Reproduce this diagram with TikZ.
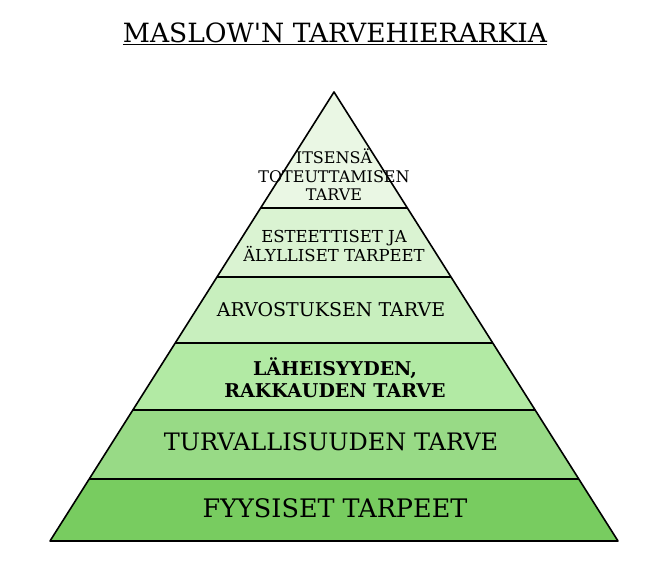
\documentclass[tikz,border=0pt]{standalone}
\usepackage{fontspec}
\setmainfont{DejaVu Serif}[Ligatures=TeXOff]
\usetikzlibrary{calc}
\definecolor{lay1}{HTML}{EAF7E4}
\definecolor{lay2}{HTML}{DAF3D2}
\definecolor{lay3}{HTML}{C8EFBE}
\definecolor{lay4}{HTML}{B2EAA4}
\definecolor{lay5}{HTML}{98DA86}
\definecolor{lay6}{HTML}{78CC60}
\tikzset{
  edge/.style={line width=1.6pt, line join=round},
  lbl/.style={align=center, inner sep=0pt, text=black},
}
\begin{document}
\begin{tikzpicture}[x=1pt,y=-1pt]
\useasboundingbox (0,0) rectangle (671,574);
\fill[white] (0,0) rectangle (671,574);
% pyramid corners
\coordinate (A) at (334,92);
\coordinate (L) at (50,541);
\coordinate (R) at (618,541);
% level points (t = (y-92)/449)
\foreach \n/\t in {1/0.258352, 2/0.412027, 3/0.559020, 4/0.708241, 5/0.861915}{
  \coordinate (l\n) at ($(A)!\t!(L)$);
  \coordinate (r\n) at ($(A)!\t!(R)$);
}
\fill[lay1] (A) -- (l1) -- (r1) -- cycle;
\fill[lay2] (l1) -- (l2) -- (r2) -- (r1) -- cycle;
\fill[lay3] (l2) -- (l3) -- (r3) -- (r2) -- cycle;
\fill[lay4] (l3) -- (l4) -- (r4) -- (r3) -- cycle;
\fill[lay5] (l4) -- (l5) -- (r5) -- (r4) -- cycle;
\fill[lay6] (l5) -- (L) -- (R) -- (r5) -- cycle;
\foreach \n in {1,...,5}{ \draw[edge] (l\n) -- (r\n); }
\draw[edge] (A) -- (L) -- (R) -- cycle;
% title
\node[lbl, font=\fontsize{26.5}{30}\selectfont] (title) at (335,34) {\underline{MASLOW'N TARVEHIERARKIA}};
% labels
\node[lbl, font=\fontsize{16}{18.5}\selectfont] (t1) at (334,175) {ITSENSÄ\\TOTEUTTAMISEN\\TARVE};
\node[lbl, font=\fontsize{16.5}{18.5}\selectfont] (t2) at (334,246) {ESTEETTISET JA\\ÄLYLLISET TARPEET};
\node[lbl, font=\fontsize{19}{22}\selectfont] (t3) at (331,310) {ARVOSTUKSEN TARVE};
\node[lbl, font=\bfseries\fontsize{19}{22}\selectfont] (t4) at (335,378) {LÄHEISYYDEN,\\RAKKAUDEN TARVE};
\node[lbl, font=\fontsize{24}{27}\selectfont] (t5) at (331,442) {TURVALLISUUDEN TARVE};
\node[lbl, font=\fontsize{25.5}{28}\selectfont] (t6) at (335,508) {FYYSISET TARPEET};
\end{tikzpicture}
\end{document}
